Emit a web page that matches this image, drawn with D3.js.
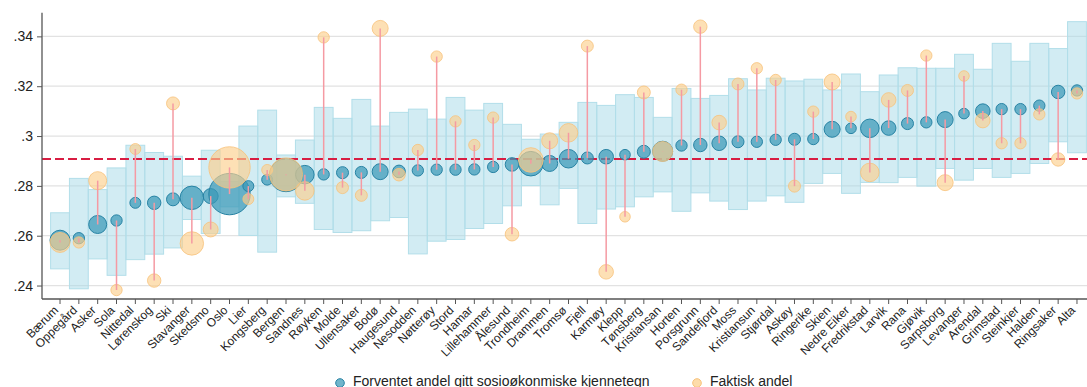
<!DOCTYPE html>
<html>
<head>
<meta charset="utf-8">
<script src="https://cdn.jsdelivr.net/npm/d3@7"></script>
<style>
  html, body { margin: 0; padding: 0; background: #fff; overflow: hidden; }
  svg { display: block; font-family: "Liberation Sans", Arial, sans-serif; }
</style>
</head>
<body>
<svg id="chart" width="1087" height="387"></svg>
<script>
// Kommuner, sortert etter forventet andel
const municipalities = [
  "Bærum","Oppegård","Asker","Sola","Nittedal","Lørenskog","Ski","Stavanger","Skedsmo","Oslo",
  "Lier","Kongsberg","Bergen","Sandnes","Røyken","Molde","Ullensaker","Bodø","Haugesund","Nesodden",
  "Nøtterøy","Stord","Hamar","Lillehammer","Ålesund","Trondheim","Drammen","Tromsø","Fjell","Karmøy",
  "Klepp","Tønsberg","Kristiansan","Horten","Porsgrunn","Sandefjord","Moss","Kristiansun","Stjørdal","Askøy",
  "Ringerike","Skien","Nedre Eiker","Fredrikstad","Larvik","Rana","Gjøvik","Sarpsborg","Levanger","Arendal",
  "Grimstad","Steinkjer","Halden","Ringsaker","Alta"
];

// Forventet andel gitt sosioøkonomiske kjennetegn
const expected = [
  .2582,.2590,.2645,.2661,.2732,.2732,.2746,.2752,.2759,.2767,
  .2799,.2825,.2843,.2845,.2846,.2853,.2854,.2857,.2858,.2862,
  .2865,.2865,.2866,.2876,.2886,.2889,.2890,.2909,.2912,.2917,
  .2925,.2937,.2939,.2962,.2964,.2971,.2977,.2977,.2985,.2987,
  .2988,.3027,.3031,.3031,.3032,.3050,.3055,.3066,.3090,.3100,
  .3108,.3108,.3122,.3177,.3183
];

// Faktisk andel
const actual = [
  .2573,.2573,.2821,.2382,.2948,.2420,.3131,.2569,.2625,.2874,
  .2747,.2864,.2846,.2780,.3396,.2793,.2762,.3432,.2845,.2944,
  .3319,.3059,.2964,.3074,.2606,.2904,.2981,.3013,.3361,.2455,
  .2676,.3175,.2938,.3186,.3439,.3054,.3209,.3272,.3225,.2799,
  .3098,.3217,.3078,.2854,.3145,.3183,.3323,.2813,.3241,.3062,
  .2971,.2971,.3087,.2906,.3171
];

// Usikkerhetsintervall rundt forventet andel
const intervalLow = [
  .2467,.2387,.2507,.2441,.2504,.2526,.2551,.2665,.2609,.2716,
  .2601,.2534,.2756,.2730,.2625,.2613,.2620,.2660,.2673,.2527,
  .2578,.2585,.2629,.2649,.2720,.2801,.2724,.2790,.2649,.2707,
  .2716,.2756,.2776,.2698,.2772,.2739,.2705,.2739,.2760,.2734,
  .2810,.2850,.2770,.2814,.2813,.2834,.2799,.2870,.2823,.2870,
  .2834,.2850,.2890,.2977,.2933
];
const intervalHigh = [
  .2692,.2830,.2785,.2872,.2963,.2934,.2919,.2839,.2943,.2818,
  .3040,.3104,.2924,.2984,.3115,.3071,.3147,.3040,.3095,.3108,
  .3068,.3155,.3104,.3131,.3047,.2987,.3008,.3055,.3135,.3123,
  .3166,.3155,.3075,.3191,.3151,.3163,.3230,.3185,.3232,.3221,
  .3228,.3185,.3249,.3178,.3245,.3274,.3272,.3272,.3328,.3268,
  .3372,.3300,.3372,.3351,.3459
];

// Relativ vekt (kommunestørrelse) som styrer boblestørrelsen
const weight = [
  100,32,81,32,30,45,42,137,56,428,
  30,30,272,86,32,36,36,64,40,32,
  32,32,32,32,46,151,64,86,36,53,
  28,42,100,32,45,53,36,32,32,36,
  32,64,28,86,53,36,32,64,28,53,
  32,32,32,45,32
];

// Landsgjennomsnitt
const nationalMean = 0.2908;

const yTicks = [.24, .26, .28, .30, .32, .34];
const yTickLabels = [".24", ".26", ".28", ".3", ".32", ".34"];

const legendLabels = ["Forventet andel gitt sosioøkonmiske kjennetegn", "Faktisk andel"];

const rows = municipalities.map((name, i) => ({
  name, expected: expected[i], actual: actual[i],
  low: intervalLow[i], high: intervalHigh[i], weight: weight[i]
}));

const svg = d3.select("#chart");
const plot = { left: 42, right: 1087, top: 12.7, bottom: 299 };

const x = d3.scaleBand()
  .domain(municipalities)
  .range([50.6, 1086.4])
  .padding(0);
const cx = d => x(d) + x.bandwidth() / 2;

const y = d3.scaleLinear()
  .domain([.2346, .3495])
  .range([plot.bottom, plot.top]);

const r = d3.scaleSqrt().domain([0, 428]).range([0, 20.7]);

// Horisontale hjelpelinjer
svg.append("g")
  .selectAll("line")
  .data(yTicks)
  .join("line")
  .attr("x1", plot.left).attr("x2", plot.right)
  .attr("y1", d => y(d)).attr("y2", d => y(d))
  .attr("stroke", "#e2e2e2")
  .attr("stroke-width", 1.2);

// Intervallsøyler
svg.append("g")
  .selectAll("rect")
  .data(rows)
  .join("rect")
  .attr("x", d => x(d.name))
  .attr("width", x.bandwidth())
  .attr("y", d => y(d.high))
  .attr("height", d => y(d.low) - y(d.high))
  .attr("fill", "rgb(165,218,231)")
  .attr("fill-opacity", 0.5)
  .attr("stroke", "rgb(178,222,233)")
  .attr("stroke-width", 1);

// Landsgjennomsnitt, stiplet
svg.append("line")
  .attr("x1", plot.left).attr("x2", plot.right)
  .attr("y1", y(nationalMean)).attr("y2", y(nationalMean))
  .attr("stroke", "#d81d42")
  .attr("stroke-width", 2)
  .attr("stroke-dasharray", "9,4");

// Forventet andel
svg.append("g")
  .selectAll("circle")
  .data(rows)
  .join("circle")
  .attr("cx", d => cx(d.name))
  .attr("cy", d => y(d.expected))
  .attr("r", d => r(d.weight))
  .attr("fill", "#3a98b7")
  .attr("fill-opacity", 0.72)
  .attr("stroke", "#2783a4")
  .attr("stroke-width", 1);

// Faktisk andel
svg.append("g")
  .selectAll("circle")
  .data(rows)
  .join("circle")
  .attr("cx", d => cx(d.name))
  .attr("cy", d => y(d.actual))
  .attr("r", d => r(d.weight))
  .attr("fill", "#fcd08e")
  .attr("fill-opacity", 0.65)
  .attr("stroke", "#f8c27a")
  .attr("stroke-opacity", 0.8)
  .attr("stroke-width", 1);

// Avvik mellom forventet og faktisk
svg.append("g")
  .selectAll("line")
  .data(rows)
  .join("line")
  .attr("x1", d => cx(d.name)).attr("x2", d => cx(d.name))
  .attr("y1", d => y(d.expected)).attr("y2", d => y(d.actual))
  .attr("stroke", "#f59aa3")
  .attr("stroke-width", 1.5);

// Akser
const yAxis = d3.axisLeft(y)
  .tickValues(yTicks)
  .tickFormat((d, i) => yTickLabels[i])
  .tickSize(5)
  .tickPadding(4);
const gy = svg.append("g")
  .attr("transform", `translate(${plot.left},0)`)
  .call(yAxis);
gy.select(".domain").remove();
gy.selectAll(".tick line").attr("stroke", "#555");
gy.selectAll(".tick text")
  .attr("fill", "#222")
  .style("font-size", "14px")
  .style("font-family", "'Liberation Sans', Arial, sans-serif");

const xAxis = d3.axisBottom(x).tickSize(5).tickSizeOuter(0);
const gx = svg.append("g")
  .attr("transform", `translate(0,${plot.bottom})`)
  .call(xAxis);
gx.select(".domain").remove();
gx.selectAll(".tick line").attr("stroke", "#555");
gx.selectAll(".tick text")
  .attr("fill", "#222")
  .style("font-size", "12px")
  .style("font-family", "'Liberation Sans', Arial, sans-serif")
  .attr("text-anchor", "end")
  .attr("dy", null)
  .attr("y", 0)
  .attr("transform", "translate(-1,12) rotate(-45)");

svg.append("line")
  .attr("x1", plot.left).attr("x2", plot.left)
  .attr("y1", plot.top).attr("y2", plot.bottom)
  .attr("stroke", "#555").attr("stroke-width", 1.3);
svg.append("line")
  .attr("x1", plot.left).attr("x2", plot.right)
  .attr("y1", plot.bottom).attr("y2", plot.bottom)
  .attr("stroke", "#555").attr("stroke-width", 1.3);

// Forklaring
const legend = svg.append("g").style("font-size", "14px").attr("fill", "#222");
const legendItems = [
  { x: 340, fill: "#3a98b7", stroke: "#2783a4", opacity: 0.72, label: legendLabels[0] },
  { x: 697, fill: "#fcd08e", stroke: "#f8c27a", opacity: 0.75, label: legendLabels[1] }
];
legendItems.forEach(it => {
  legend.append("circle")
    .attr("cx", it.x).attr("cy", 383).attr("r", 4.3)
    .attr("fill", it.fill).attr("fill-opacity", it.opacity)
    .attr("stroke", it.stroke);
  legend.append("text")
    .attr("x", it.x + 13).attr("y", 386)
    .text(it.label);
});
</script>
</body>
</html>
